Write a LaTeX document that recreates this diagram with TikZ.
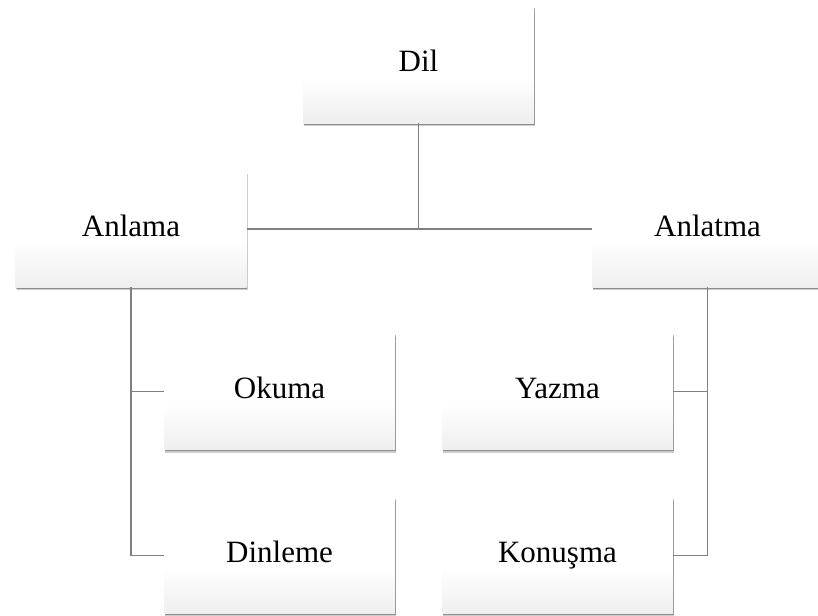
\documentclass[tikz,border=0pt]{standalone}
\usepackage{fontspec}
\setmainfont{Liberation Serif}
\usetikzlibrary{shadows}
\pgfdeclareverticalshading{boxshade}{100bp}{color(0bp)=(black!11); color(20bp)=(black!8); color(45bp)=(white); color(100bp)=(white)}
\tikzset{
  box/.style={rectangle, minimum width=231pt, minimum height=116pt, inner sep=0pt,
    shading=boxshade, draw=none, text height=21pt, text depth=7pt,
    font=\rmfamily\fontsize{31}{36}\selectfont,
    drop shadow={shadow xshift=1.2pt, shadow yshift=-3pt, fill=black, opacity=0.2},
    drop shadow={shadow xshift=0.5pt, shadow yshift=-1.5pt, fill=black, opacity=0.3}},
  conn/.style={draw=black!50, line width=1.8pt}
}
\begin{document}
\begin{tikzpicture}[x=1pt,y=1pt]
\clip (0,0) rectangle (818,-615);
\fill[white] (0,0) rectangle (818,-615);
\node[box] (dil) at (418.5,-65) {Dil};
\node[box] (anlama) at (131,-229) {Anlama};
\node[box] (anlatma) at (707.5,-229) {Anlatma};
\node[box] (okuma) at (279.5,-391.5) {Okuma};
\node[box] (dinleme) at (279.5,-555.5) {Dinleme};
\node[box] (yazma) at (557.5,-391.5) {Yazma};
\node[box] (konusma) at (557.5,-555.5) {Konuşma};
\draw[conn] (dil.south) -- (dil.south |- anlama.east);
\draw[conn] (anlama.east) -- (anlatma.west);
\draw[conn] (anlama.south) |- (dinleme.west);
\draw[conn] (anlama.south |- okuma.west) -- (okuma.west);
\draw[conn] (anlatma.south) |- (konusma.east);
\draw[conn] (anlatma.south |- yazma.east) -- (yazma.east);
\end{tikzpicture}
\end{document}
